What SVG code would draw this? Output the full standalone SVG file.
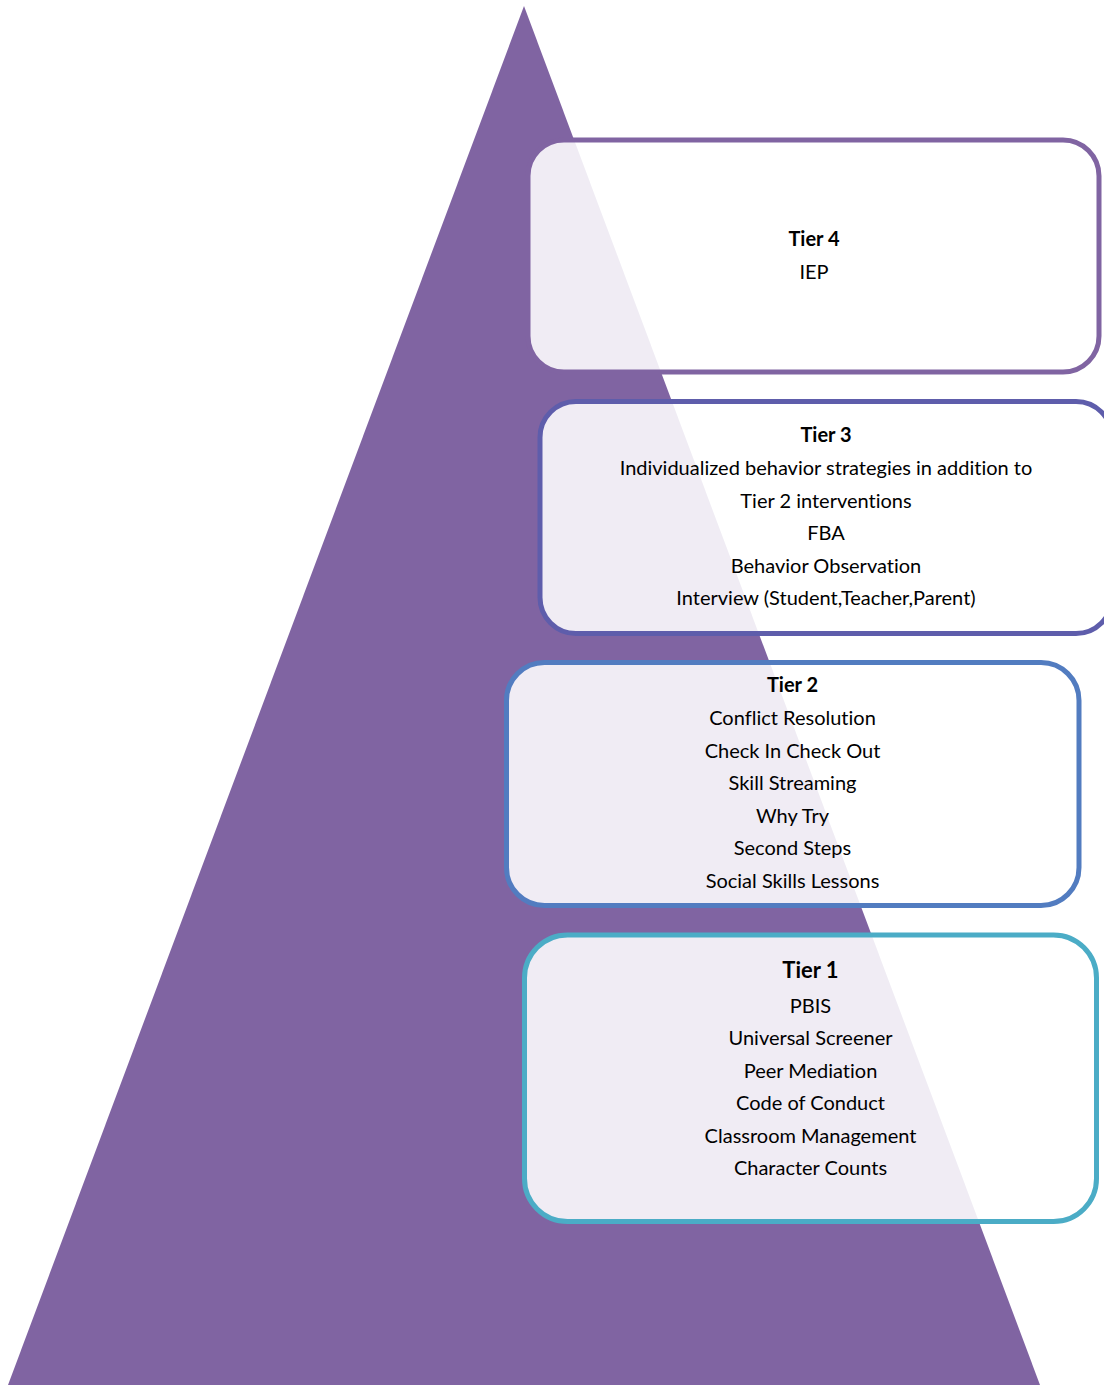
<svg xmlns="http://www.w3.org/2000/svg" width="1104" height="1385" viewBox="0 0 1104 1385">
<style>
.box{fill:#ffffff;fill-opacity:0.88;stroke-width:5}
.t{font-family:Lato,"Liberation Sans",sans-serif;font-size:20px;fill:#000;text-anchor:middle;font-variant-ligatures:none}
.b{font-weight:bold}
</style>
<rect width="1104" height="1385" fill="#ffffff"/>
<g id="pyramid"><polygon points="524,6 1040,1385 8,1385" fill="#8064A2"/></g>
<g id="connectors"></g>
<g id="tier4">
<rect class="box" x="528" y="140" width="571" height="232" rx="36" stroke="#8064A2"/>
<text class="t b" x="814" y="246">Tier 4</text>
<text class="t" x="814" y="279">IEP</text>
</g>
<g id="tier3">
<rect class="box" x="540" y="401.5" width="572" height="232" rx="36" stroke="#5E5DAB"/>
<text class="t b" x="826" y="442">Tier 3</text>
<text class="t" x="826" y="475">Individualized behavior strategies in addition to</text>
<text class="t" x="826" y="507.5">Tier 2 interventions</text>
<text class="t" x="826" y="540">FBA</text>
<text class="t" x="826" y="572.5">Behavior Observation</text>
<text class="t" x="826" y="605">Interview (Student,Teacher,Parent)</text>
</g>
<g id="tier2">
<rect class="box" x="506.5" y="662.5" width="572.5" height="243" rx="38" stroke="#527CC0"/>
<text class="t b" x="792.5" y="692">Tier 2</text>
<text class="t" x="792.5" y="725">Conflict Resolution</text>
<text class="t" x="792.5" y="757.5">Check In Check Out</text>
<text class="t" x="792.5" y="790">Skill Streaming</text>
<text class="t" x="792.5" y="822.5">Why Try</text>
<text class="t" x="792.5" y="855">Second Steps</text>
<text class="t" x="792.5" y="887.5">Social Skills Lessons</text>
</g>
<g id="tier1">
<rect class="box" x="524.5" y="935" width="572" height="286.5" rx="43" stroke="#4BACC6"/>
<text class="t b" x="810.5" y="978" style="font-size:22px">Tier 1</text>
<text class="t" x="810.5" y="1013">PBIS</text>
<text class="t" x="810.5" y="1045">Universal Screener</text>
<text class="t" x="810.5" y="1078">Peer Mediation</text>
<text class="t" x="810.5" y="1110">Code of Conduct</text>
<text class="t" x="810.5" y="1143">Classroom Management</text>
<text class="t" x="810.5" y="1175">Character Counts</text>
</g>
</svg>
